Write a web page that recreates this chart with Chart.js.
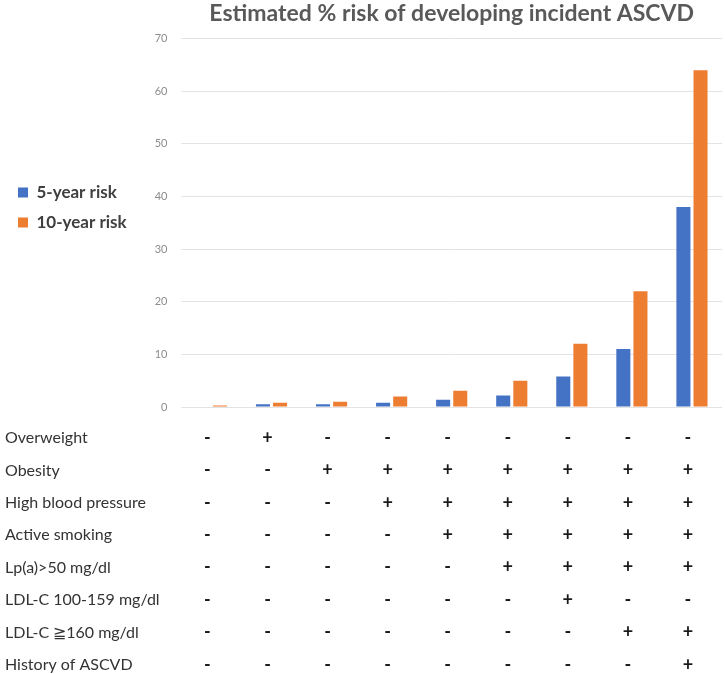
<!DOCTYPE html>
<html>
<head>
<meta charset="utf-8">
<script src="https://cdn.jsdelivr.net/npm/chart.js@4/dist/chart.umd.min.js"></script>
<style>
  body { margin: 0; background: #fff; }
  canvas { display: block; }
</style>
</head>
<body>
<canvas id="riskChart" width="725" height="674"></canvas>
<script>
// risk scenarios, one per column
const scenarios = ['1', '2', '3', '4', '5', '6', '7', '8', '9'];
const risk5 = [0.1, 0.5, 0.5, 0.8, 1.4, 2.2, 5.8, 11, 38];
const risk10 = [0.3, 0.8, 1.0, 2.0, 3.1, 5.0, 12, 22, 64];
const yTicks = [0, 10, 20, 30, 40, 50, 60, 70];

// risk factor table under the bars (1 = present, 0 = absent)
const factorNames = ['Overweight', 'Obesity', 'High blood pressure', 'Active smoking',
  'Lp(a)>50 mg/dl', 'LDL-C 100-159 mg/dl', 'LDL-C \u2267160 mg/dl', 'History of ASCVD'];
const overweight = [0, 1, 0, 0, 0, 0, 0, 0, 0];
const obesity = [0, 0, 1, 1, 1, 1, 1, 1, 1];
const highBP = [0, 0, 0, 1, 1, 1, 1, 1, 1];
const smoking = [0, 0, 0, 0, 1, 1, 1, 1, 1];
const lpa = [0, 0, 0, 0, 0, 1, 1, 1, 1];
const ldl100 = [0, 0, 0, 0, 0, 0, 1, 0, 0];
const ldl160 = [0, 0, 0, 0, 0, 0, 0, 1, 1];
const history = [0, 0, 0, 0, 0, 0, 0, 0, 1];
const factorRows = [overweight, obesity, highBP, smoking, lpa, ldl100, ldl160, history];

const fontFamily = 'Lato, "Open Sans", sans-serif';

const factorTable = {
    id: 'factorTable',
    afterDraw(chart) {
        const ctx = chart.ctx;
        const x = chart.scales.x;
        const top = chart.chartArea.bottom + 31;
        const rowH = 32.4;
        ctx.save();
        ctx.textBaseline = 'middle';
        factorRows.forEach((row, i) => {
            let y = top + i * rowH;
            ctx.font = '16px ' + fontFamily;
            ctx.fillStyle = '#333';
            ctx.textAlign = 'left';
            ctx.fillText(factorNames[i], 5, y);
            ctx.textAlign = 'center';
            row.forEach((v, j) => {
                let cx = x.getPixelForValue(j) - 4;
                ctx.font = 'bold 18px ' + fontFamily;
                ctx.fillStyle = '#1a1a1a';
                ctx.fillText(v ? '+' : '-', cx, y);
            });
        });
        ctx.restore();
    }
};

new Chart(document.getElementById('riskChart'), {
    type: 'bar',
    data: {
        labels: scenarios,
        datasets: [
            { label: '5-year risk', data: risk5, backgroundColor: '#4472C4' },
            { label: '10-year risk', data: risk10, backgroundColor: '#ED7D31' }
        ]
    },
    options: {
        responsive: false,
        animation: false,
        layout: { padding: { left: 5, right: 3, top: 0, bottom: 259 } },
        datasets: { bar: { categoryPercentage: 0.57, barPercentage: 0.82 } },
        scales: {
            x: {
                ticks: { display: false },
                grid: { display: false },
                border: { display: false }
            },
            y: {
                min: 0,
                max: 70,
                afterBuildTicks: (axis) => { axis.ticks = yTicks.map(v => ({ value: v })); },
                afterFit: (axis) => { axis.width += 4; },
                ticks: { color: '#8c8c8c', font: { size: 11, family: fontFamily }, padding: 14 },
                grid: { color: '#e3e3e3', drawTicks: false },
                border: { display: false }
            }
        },
        plugins: {
            title: {
                display: true,
                text: 'Estimated % risk of developing incident ASCVD',
                fullSize: false,
                color: '#595959',
                font: { size: 23, weight: 'bold', family: fontFamily },
                padding: { top: 0, bottom: 11 }
            },
            legend: {
                position: 'left',
                labels: {
                    boxWidth: 10,
                    boxHeight: 10,
                    padding: 13,
                    color: '#404040',
                    font: { size: 17, weight: 'bold', family: fontFamily }
                }
            },
            tooltip: { enabled: false }
        }
    },
    plugins: [factorTable]
});
</script>
</body>
</html>
